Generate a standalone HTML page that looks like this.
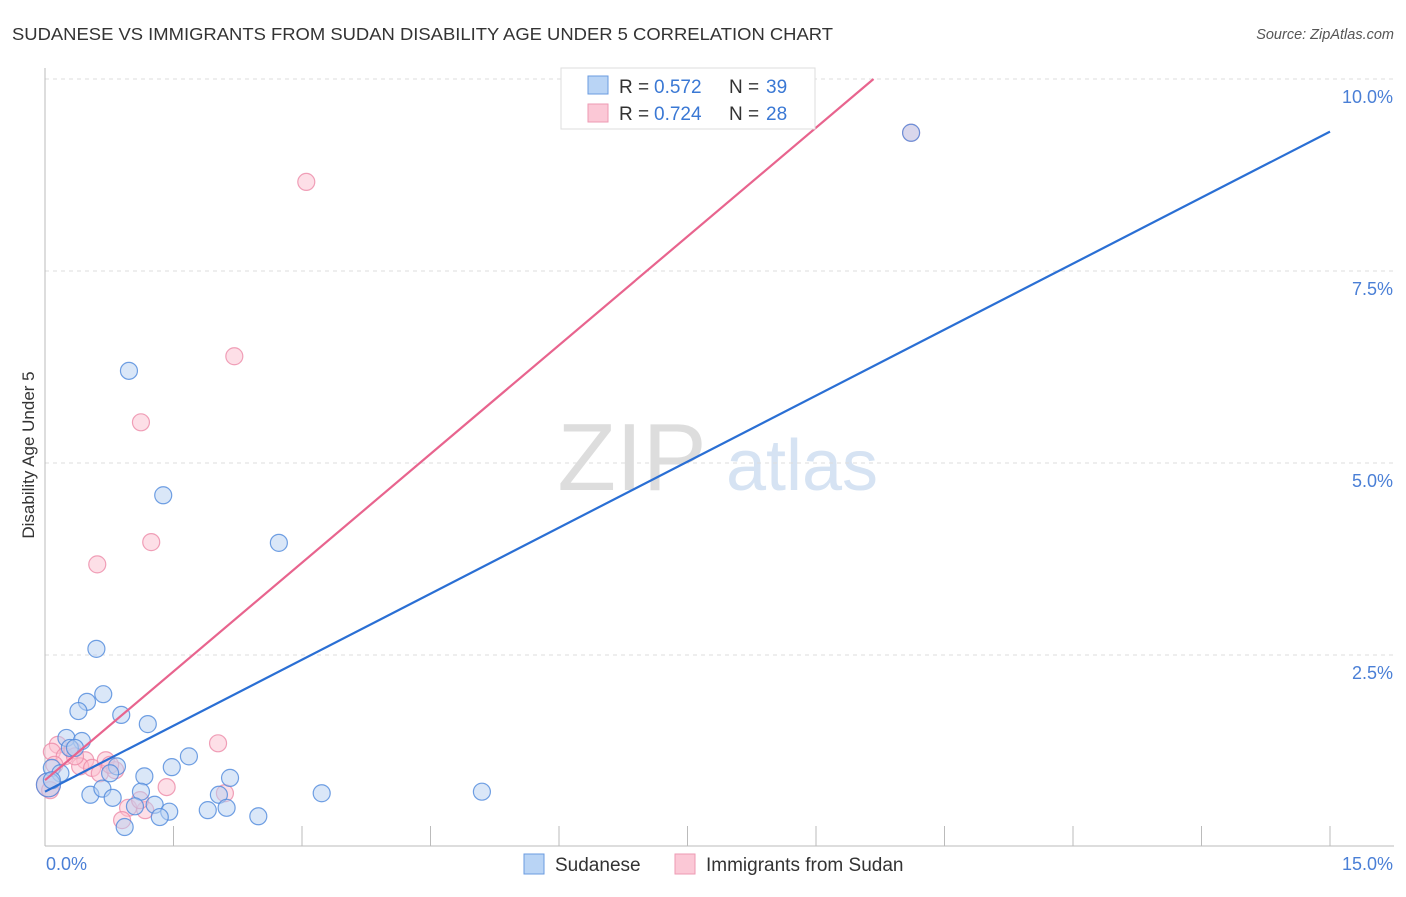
<!DOCTYPE html>
<html><head><meta charset="utf-8"><style>
body{margin:0;background:#fff;font-family:"Liberation Sans",sans-serif;}
svg text{font-family:"Liberation Sans",sans-serif;}
</style></head><body>
<svg id="chart" width="1406" height="892">
<text x="12" y="40" font-size="17.5" fill="#333" textLength="821" lengthAdjust="spacingAndGlyphs">SUDANESE VS IMMIGRANTS FROM SUDAN DISABILITY AGE UNDER 5 CORRELATION CHART</text>
<text x="1394" y="39" font-size="14.5" fill="#555" font-style="italic" text-anchor="end">Source: ZipAtlas.com</text>
<g>
<text x="632" y="490" font-size="96" fill="#ddd" font-family="Liberation Serif" text-anchor="middle">ZIP</text>
<text x="802" y="490" font-size="72" fill="#d6e3f3" text-anchor="middle">atlas</text>
</g>
<g id="grid"></g>
<g id="axes"></g>
<g id="marks"></g>
<text transform="translate(34,455) rotate(-90)" font-size="17" fill="#333" text-anchor="middle">Disability Age Under 5</text>
<g>
<rect x="561" y="68" width="254" height="61" fill="#fff" stroke="#ddd"/>
<rect x="588" y="76" width="20" height="18" fill="#b9d4f5" stroke="#6a9be0"/>
<rect x="588" y="104" width="20" height="18" fill="#fbc8d6" stroke="#ee9ab3"/>
<text x="619" y="93" font-size="19" fill="#333">R = </text><text x="654" y="93" font-size="19" fill="#3a78d4">0.572</text>
<text x="729" y="93" font-size="19" fill="#333">N = </text><text x="766" y="93" font-size="19" fill="#3a78d4">39</text>
<text x="619" y="120" font-size="19" fill="#333">R = </text><text x="654" y="120" font-size="19" fill="#3a78d4">0.724</text>
<text x="729" y="120" font-size="19" fill="#333">N = </text><text x="766" y="120" font-size="19" fill="#3a78d4">28</text>
</g>
<g>
<rect x="524" y="854" width="20" height="20" fill="#b9d4f5" stroke="#6a9be0"/>
<text x="555" y="871" font-size="19" fill="#333">Sudanese</text>
<rect x="675" y="854" width="20" height="20" fill="#fbc8d6" stroke="#ee9ab3"/>
<text x="706" y="871" font-size="19" fill="#333">Immigrants from Sudan</text>
</g>
</svg>
<script>
const yTicks=[2.5,5.0,7.5,10.0];
const xTickLabels=["0.0%","15.0%"];
const blueX=[0.98,1.38,2.73,0.60,0.68,0.49,0.39,0.89,1.20,0.25,0.43,0.29,1.68,0.08,0.18,0.84,0.76,1.48,1.16,2.16,1.12,0.53,0.67,0.79,2.03,3.23,5.10,1.28,1.45,1.34,1.90,2.12,2.49,0.93,10.11,0.04,0.08,0.35,1.05];
const blueY=[6.20,4.58,3.96,2.58,1.99,1.89,1.77,1.72,1.60,1.42,1.38,1.29,1.18,1.03,0.96,1.05,0.96,1.04,0.92,0.90,0.72,0.68,0.76,0.64,0.68,0.70,0.72,0.55,0.46,0.39,0.48,0.51,0.40,0.26,9.30,0.81,0.87,1.29,0.53];
const pinkX=[3.05,2.21,1.12,1.24,0.61,2.02,1.42,2.10,0.15,0.08,0.23,0.32,0.47,0.41,0.55,0.71,0.64,0.82,0.04,0.06,0.97,1.17,0.90,10.11,0.11,0.76,1.11,0.35];
const pinkY=[8.66,6.39,5.53,3.97,3.68,1.35,0.78,0.70,1.33,1.24,1.18,1.26,1.13,1.05,1.03,1.13,0.96,1.00,0.81,0.74,0.51,0.48,0.35,9.30,1.07,1.07,0.61,1.18];
const blueLine=[0.72,0.573];
const pinkLine=[0.87,0.944];
const X0=45,X1=1330,Y0=847,Y10=79;
const sx=v=>X0+(v/15)*(X1-X0);
const sy=v=>Y0-(v/10)*(Y0-Y10);
const NS="http://www.w3.org/2000/svg";
function mk(tag,attrs,parent){const e=document.createElementNS(NS,tag);for(const k in attrs)e.setAttribute(k,attrs[k]);parent.appendChild(e);return e;}
const grid=document.getElementById('grid'),axes=document.getElementById('axes'),marks=document.getElementById('marks');
yTicks.forEach(t=>{
 const l=mk('line',{x1:X0,x2:1394,y1:sy(t),y2:sy(t),stroke:'#ddd','stroke-dasharray':'4,4'},grid);
 
 
 const tx=mk('text',{x:1393,y:sy(t)+24,'font-size':18,fill:'#4a7fd6','text-anchor':'end'},axes);
 tx.textContent=t.toFixed(1)+'%';
 
 
});
const ax=mk('line',{x1:X0,x2:X0,y1:68,y2:846,stroke:'#bbb'},axes);


const bx=mk('line',{x1:X0,x2:1394,y1:846,y2:846,stroke:'#bbb'},axes);


for(let i=1;i<=10;i++){
 const t=mk('line',{x1:sx(i*1.5),x2:sx(i*1.5),y1:826,y2:846,stroke:'#bbb'},axes);
 
 
}
[[X0+1,'start',xTickLabels[0]],[1393,'end',xTickLabels[1]]].forEach(a=>{
 const t=mk('text',{x:a[0],y:870,'font-size':18,fill:'#4a7fd6','text-anchor':a[1]},axes);
 t.textContent=a[2];
 
 
});
function pts(xs,ys,fill,stroke,name){
 xs.forEach((x,i)=>{
  const big=(x<0.06);
  const c=mk('circle',{cx:sx(x),cy:sy(ys[i]),r:big?12:8.5,fill:fill,'fill-opacity':0.5,stroke:stroke,'stroke-width':1.2,'stroke-opacity':0.8},marks);
  
  
 });
}
pts(pinkX,pinkY,'#fbc0d0','#ec8aa8','point-immigrants-from-sudan');
pts(blueX,blueY,'#b5cff2','#4e88dc','point-sudanese');
function line(p,xEnd,color,name){
 let xe=xEnd; const ye=p[0]+p[1]*xe;
 if(ye>10) xe=(10-p[0])/p[1];
 const l=mk('line',{x1:sx(0),y1:sy(p[0]),x2:sx(xe),y2:sy(p[0]+p[1]*xe),stroke:color,'stroke-width':2.2},marks);
 
 
}
line(blueLine,15,'#2a6fd4','trendline-sudanese');
line(pinkLine,15,'#e8648e','trendline-immigrants-from-sudan');
</script>
</body></html>
